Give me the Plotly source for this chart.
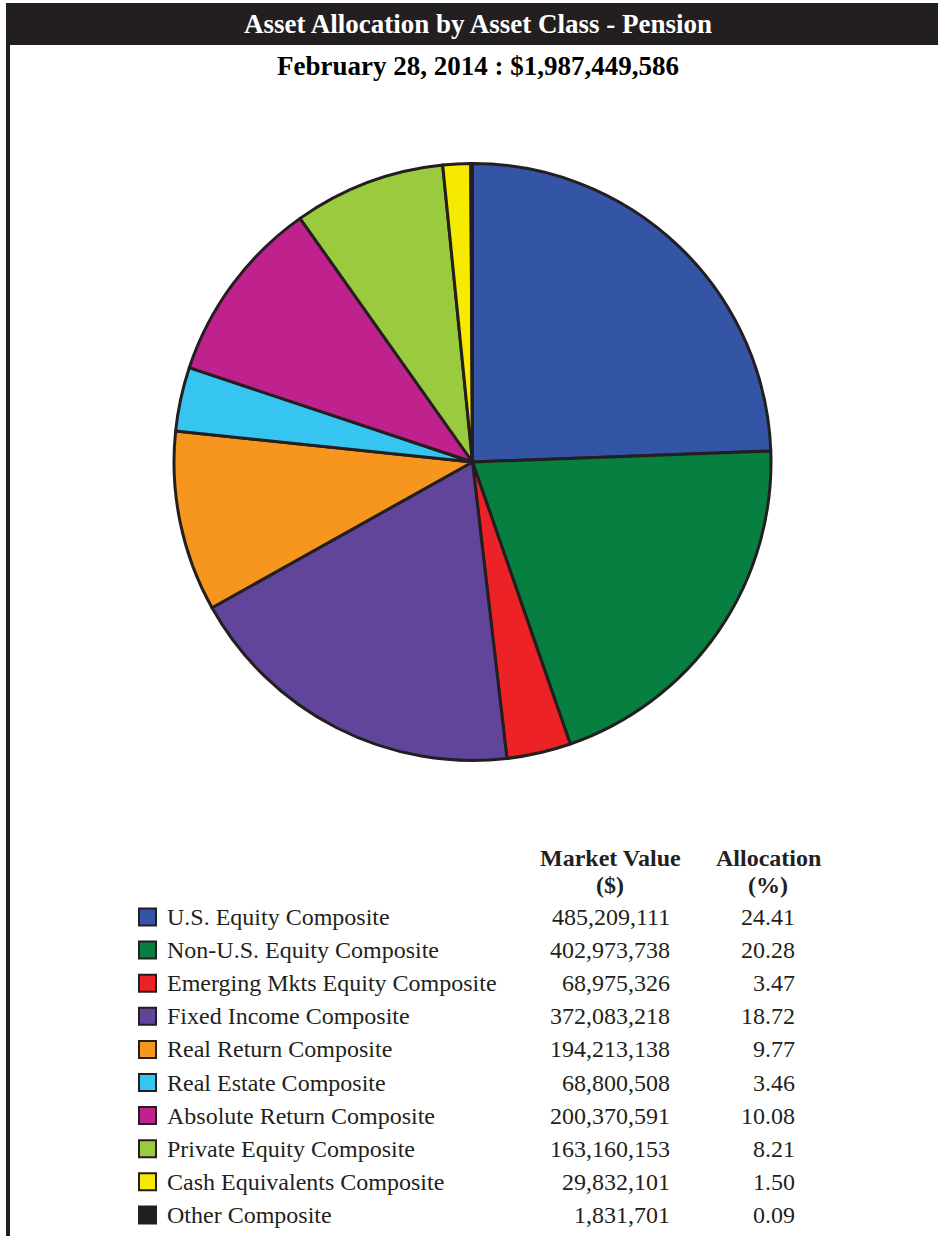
import plotly.graph_objects as go

W, H = 938, 1236

categories = [
    "U.S. Equity Composite",
    "Non-U.S. Equity Composite",
    "Emerging Mkts Equity Composite",
    "Fixed Income Composite",
    "Real Return Composite",
    "Real Estate Composite",
    "Absolute Return Composite",
    "Private Equity Composite",
    "Cash Equivalents Composite",
    "Other Composite",
]
market_values = [485209111, 402973738, 68975326, 372083218, 194213138,
                 68800508, 200370591, 163160153, 29832101, 1831701]
allocations = [24.41, 20.28, 3.47, 18.72, 9.77, 3.46, 10.08, 8.21, 1.50, 0.09]
colors = ["#3454A5", "#077F40", "#ED2227", "#61459B", "#F7961E",
          "#36C4F0", "#BF228C", "#9ACA3D", "#F6EA00", "#231F20"]

title = "Asset Allocation by Asset Class - Pension"
subtitle = "February 28, 2014 : $1,987,449,586"

DARK = "#231F20"
FONT = "Liberation Serif, Times New Roman, serif"


def px(x):
    return x / W


def py(y):
    return 1 - y / H


fig = go.Figure()

# pie: pixel box 174..771 x, 163..760 y
fig.add_trace(go.Pie(
    labels=categories,
    values=market_values,
    marker=dict(colors=colors, line=dict(color=DARK, width=3)),
    sort=False,
    direction="clockwise",
    rotation=0,
    textinfo="none",
    showlegend=False,
    domain=dict(x=[px(174), px(771)], y=[py(761), py(163)]),
))

shapes = []
# header bar
shapes.append(dict(type="rect", xref="paper", yref="paper",
                   x0=px(6), x1=px(938), y0=py(45), y1=py(3),
                   fillcolor=DARK, line=dict(width=0), layer="below"))
# left border
shapes.append(dict(type="rect", xref="paper", yref="paper",
                   x0=px(6), x1=px(10), y0=py(1236), y1=py(45),
                   fillcolor=DARK, line=dict(width=0), layer="below"))

annotations = []
annotations.append(dict(text="<b>" + title + "</b>", x=px(478), y=py(24),
                        xref="paper", yref="paper", showarrow=False,
                        xanchor="center", yanchor="middle",
                        font=dict(family=FONT, size=27, color="white")))
annotations.append(dict(text="<b>" + subtitle + "</b>", x=px(478), y=py(66),
                        xref="paper", yref="paper", showarrow=False,
                        xanchor="center", yanchor="middle",
                        font=dict(family=FONT, size=27, color="black")))

# table headers
for txt, xc in [("Market Value", 610), ("Allocation", 768)]:
    annotations.append(dict(text="<b>" + txt + "</b>", x=px(xc), y=py(858),
                            xref="paper", yref="paper", showarrow=False,
                            xanchor="center", yanchor="middle",
                            font=dict(family=FONT, size=24, color=DARK)))
for txt, xc in [("($)", 610), ("(%)", 768)]:
    annotations.append(dict(text="<b>" + txt + "</b>", x=px(xc), y=py(885),
                            xref="paper", yref="paper", showarrow=False,
                            xanchor="center", yanchor="middle",
                            font=dict(family=FONT, size=24, color=DARK)))

row0, step = 917, 33.1
for i, (name, mv, al, c) in enumerate(zip(categories, market_values, allocations, colors)):
    yc = row0 + i * step
    shapes.append(dict(type="rect", xref="paper", yref="paper",
                       x0=px(139), x1=px(156), y0=py(yc + 8.5), y1=py(yc - 8.5),
                       fillcolor=c, line=dict(color=DARK, width=2)))
    annotations.append(dict(text=name, x=px(165), y=py(yc), xref="paper", yref="paper",
                            showarrow=False, xanchor="left", yanchor="middle",
                            font=dict(family=FONT, size=24, color=DARK)))
    annotations.append(dict(text=f"{mv:,}", x=px(672), y=py(yc), xref="paper", yref="paper",
                            showarrow=False, xanchor="right", yanchor="middle",
                            font=dict(family=FONT, size=24, color=DARK)))
    annotations.append(dict(text=f"{al:.2f}", x=px(797), y=py(yc), xref="paper", yref="paper",
                            showarrow=False, xanchor="right", yanchor="middle",
                            font=dict(family=FONT, size=24, color=DARK)))

fig.update_layout(
    width=W, height=H,
    margin=dict(l=0, r=0, t=0, b=0),
    paper_bgcolor="white", plot_bgcolor="white",
    shapes=shapes, annotations=annotations,
    showlegend=False,
)

fig.write_html("out.html",
               config={"displayModeBar": False},
               post_script="document.body.style.margin='0';document.body.style.overflow='hidden';")
